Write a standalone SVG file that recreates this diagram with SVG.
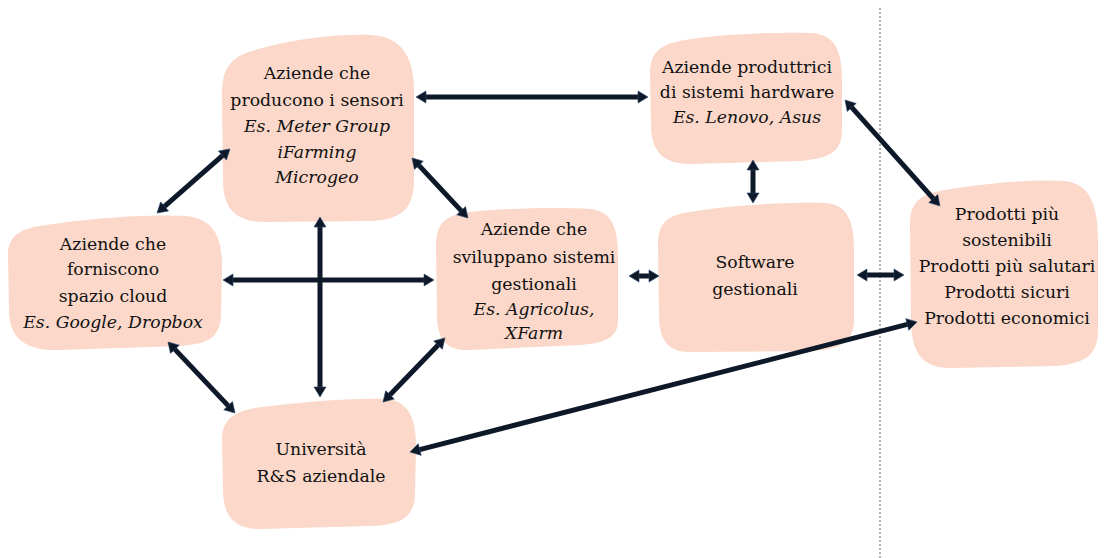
<svg xmlns="http://www.w3.org/2000/svg" width="1105" height="558" viewBox="0 0 1105 558">
<style>
.blob{fill:#fbd8c9;stroke:none}
.t{font-family:'DejaVu Serif','Liberation Serif',serif;font-size:17.3px;fill:#111;text-anchor:middle}
.i{font-style:italic}
.c{stroke:#0d1829;stroke-width:5;fill:none;marker-start:url(#ah);marker-end:url(#ah)}
</style>
<defs>
<marker id="ah" markerUnits="userSpaceOnUse" markerWidth="14" markerHeight="14" viewBox="0 -7 11 14" refX="3" refY="0" orient="auto-start-reverse">
<path d="M0,-6 L10,0 L0,6 Z" fill="#0d1829" stroke="#2b4566" stroke-width="0.6"/>
</marker>
</defs>
<rect width="1105" height="558" fill="#ffffff"/>
<line x1="880" y1="8" x2="880" y2="558" stroke="#666" stroke-width="1" stroke-dasharray="2,2"/>

<g id="sensori">
<path class="blob" d="M 262,48 C 300,38 340,34 370,35 C 400,36 414,55 414,90 L 414,180 C 414,210 400,220 370,221 L 265,222 C 235,222 223,208 223,180 L 222,95 C 222,62 235,55 262,48 Z"/>
<text class="t" x="317" y="79">Aziende che</text>
<text class="t" x="317" y="106">producono i sensori</text>
<text class="t i" x="317" y="132">Es. Meter Group</text>
<text class="t i" x="317" y="158">iFarming</text>
<text class="t i" x="317" y="183">Microgeo</text>
</g>

<g id="hardware">
<path class="blob" d="M 685,40 C 720,34 780,32 810,33 C 835,34 842,50 842,80 L 842,130 C 842,152 830,158 800,161 L 690,164 C 662,164 651,150 651,125 L 650,75 C 650,50 662,44 685,40 Z"/>
<text class="t" x="747" y="73">Aziende produttrici</text>
<text class="t" x="747" y="98">di sistemi hardware</text>
<text class="t i" x="747" y="123">Es. Lenovo, Asus</text>
</g>

<g id="cloud">
<path class="blob" d="M 40,226 C 90,218 150,214 185,216 C 212,218 222,235 222,265 L 221,315 C 220,338 208,344 180,346 L 60,350 C 25,351 9,338 9,310 L 8,255 C 8,236 20,229 40,226 Z"/>
<text class="t" x="113" y="250">Aziende che</text>
<text class="t" x="113" y="275">forniscono</text>
<text class="t" x="113" y="302">spazio cloud</text>
<text class="t i" x="113" y="328">Es. Google, Dropbox</text>
</g>

<g id="gestionali">
<path class="blob" d="M 470,212 C 510,208 560,207 590,209 C 612,211 618,228 618,255 L 618,320 C 618,338 605,343 580,345 L 470,350 C 445,351 437,338 437,315 L 436,245 C 436,222 448,214 470,212 Z"/>
<text class="t" x="534" y="235">Aziende che</text>
<text class="t" x="534" y="263">sviluppano sistemi</text>
<text class="t" x="534" y="290">gestionali</text>
<text class="t i" x="534" y="315">Es. Agricolus,</text>
<text class="t i" x="534" y="339">XFarm</text>
</g>

<g id="software">
<path class="blob" d="M 690,212 C 730,205 790,202 825,203 C 848,204 854,222 854,250 L 854,320 C 854,342 840,350 810,351 L 690,352 C 668,352 659,340 659,315 L 658,245 C 658,222 668,215 690,212 Z"/>
<text class="t" x="755" y="268">Software</text>
<text class="t" x="755" y="295">gestionali</text>
</g>

<g id="prodotti">
<path class="blob" d="M 945,190 C 990,182 1040,179 1065,181 C 1090,184 1098,205 1098,240 L 1098,330 C 1098,355 1085,364 1055,366 L 950,368 C 922,368 911,352 911,320 L 910,225 C 910,200 922,194 945,190 Z"/>
<text class="t" x="1007" y="220">Prodotti più</text>
<text class="t" x="1007" y="246">sostenibili</text>
<text class="t" x="1007" y="272">Prodotti più salutari</text>
<text class="t" x="1007" y="298">Prodotti sicuri</text>
<text class="t" x="1007" y="324">Prodotti economici</text>
</g>

<g id="universita">
<path class="blob" d="M 255,408 C 300,402 350,398 385,399 C 408,400 416,418 416,445 L 415,495 C 414,518 400,525 370,526 L 260,529 C 233,529 223,515 223,490 L 222,440 C 222,420 233,412 255,408 Z"/>
<text class="t" x="321" y="455">Università</text>
<text class="t" x="321" y="482">R&amp;S aziendale</text>
</g>

<g id="connectors">
<line class="c" x1="423" y1="97" x2="641" y2="97"/>
<line class="c" x1="162.3" y1="208.4" x2="224.7" y2="153.6"/>
<line class="c" x1="416.8" y1="163.1" x2="463.2" y2="212.9"/>
<line class="c" x1="320" y1="224" x2="320" y2="390"/>
<line class="c" x1="230" y1="280" x2="427" y2="280"/>
<line class="c" x1="636" y1="276" x2="652" y2="276"/>
<line class="c" x1="753" y1="167" x2="753" y2="196"/>
<line class="c" x1="849.7" y1="105.2" x2="935.3" y2="200.8"/>
<line class="c" x1="864" y1="275" x2="897" y2="275"/>
<line class="c" x1="172.8" y1="347.1" x2="230.2" y2="407.9"/>
<line class="c" x1="387.9" y1="397" x2="440.1" y2="343"/>
<line class="c" x1="416.8" y1="450.3" x2="910.2" y2="323.7"/>
</g>
</svg>
